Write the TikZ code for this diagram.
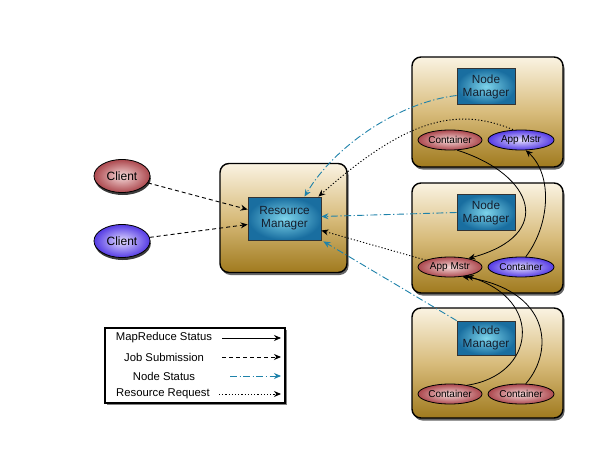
\documentclass[tikz,border=0pt]{standalone}
\usepackage{fontspec}
\setmainfont{Liberation Sans}
\usetikzlibrary{arrows.meta,shadows,shapes.geometric}
\definecolor{nsblue}{RGB}{30,130,170}
\definecolor{boxtop}{RGB}{250,243,226}
\definecolor{boxmid}{RGB}{216,188,124}
\definecolor{boxbot}{RGB}{160,122,30}
\definecolor{tealin}{RGB}{125,212,234}
\definecolor{tealout}{RGB}{25,110,160}
\definecolor{redin}{RGB}{246,218,218}
\definecolor{redout}{RGB}{172,72,78}
\definecolor{bluein}{RGB}{228,222,255}
\definecolor{blueout}{RGB}{84,58,228}
\definecolor{mgrtext}{RGB}{20,30,45}
\tikzset{
  hostbox/.style={draw=black, line width=1.4pt, rounded corners=9pt,
    top color=boxtop, bottom color=boxbot, middle color=boxmid,
    drop shadow={shadow xshift=1.5pt, shadow yshift=-2.5pt, fill=black!75, opacity=0.8}},
  mgr/.style={draw=black!80, line width=0.8pt, shading=radial, inner color=tealin,
    outer color=tealout, align=center, text=mgrtext, font=\fontsize{11.8}{13}\selectfont, inner sep=0pt},
  redell/.style={ellipse, draw=black, line width=0.8pt, shading=radial, inner color=redin,
    outer color=redout, inner sep=0pt, font=\fontsize{10}{11}\selectfont},
  blueell/.style={ellipse, draw=black, line width=0.8pt, shading=radial, inner color=bluein,
    outer color=blueout, inner sep=0pt, font=\fontsize{10}{11}\selectfont},
  clientshadow/.style={drop shadow={shadow xshift=0.8pt, shadow yshift=-2.5pt, fill=black!85, opacity=0.9}},
  tip/.style={-{Stealth[length=7pt,width=6pt]}},
  mrstatus/.style={tip, line width=0.8pt, black},
  jobsub/.style={tip, line width=0.9pt, black, dash pattern=on 4pt off 3pt},
  nodestat/.style={tip, line width=0.9pt, nsblue, dash pattern=on 7pt off 2.5pt on 1.2pt off 2.5pt},
  resreq/.style={tip, line width=0.9pt, black, dash pattern=on 1.2pt off 2pt},
  legtext/.style={font=\fontsize{11.3}{13}\selectfont, anchor=center},
}
\begin{document}
\begin{tikzpicture}[x=1pt,y=-1pt]
\useasboundingbox[fill=white] (0,0) rectangle (608,460);

% host boxes
\node[hostbox, minimum width=127pt, minimum height=109pt] (rmbox) at (283.5,218) {};
\node[hostbox, minimum width=151pt, minimum height=110pt] (nm1box) at (487.5,112) {};
\node[hostbox, minimum width=151pt, minimum height=110pt] (nm2box) at (487.5,238) {};
\node[hostbox, minimum width=151pt, minimum height=110pt] (nm3box) at (487.5,363) {};

% managers
\node[mgr, minimum width=73pt, minimum height=43pt] (rm) at (284.5,218.5) {Resource\\Manager};
\node[mgr, minimum width=58pt, minimum height=36pt] (nm1) at (486,86.5) {Node\\Manager};
\node[mgr, minimum width=58pt, minimum height=36pt] (nm2) at (486,212.5) {Node\\Manager};
\node[mgr, minimum width=58pt, minimum height=34pt] (nm3) at (486,338) {Node\\Manager};

% containers / app masters
\node[redell, minimum width=64pt, minimum height=20pt] (c1) at (450,140) {Container};
\node[blueell, minimum width=66pt, minimum height=20pt] (am1) at (521,140) {App Mstr};
\node[redell, minimum width=64pt, minimum height=20pt] (am2) at (450,267) {App Mstr};
\node[blueell, minimum width=66pt, minimum height=20pt] (c2) at (521,267) {Container};
\node[redell, minimum width=64pt, minimum height=20pt] (c3a) at (450,394) {Container};
\node[redell, minimum width=66pt, minimum height=20pt] (c3b) at (521,394) {Container};

% clients
\node[redell, clientshadow, minimum width=56pt, minimum height=33pt, font=\fontsize{12}{13}\selectfont] (cl1) at (122,176) {Client};
\node[blueell, clientshadow, minimum width=56pt, minimum height=33pt, font=\fontsize{12}{13}\selectfont] (cl2) at (122,241) {Client};

% job submission
\draw[jobsub] (cl1) -- ([yshift=9pt]rm.west);
\draw[jobsub] (cl2) -- ([yshift=-6pt]rm.west);

% node status
\draw[nodestat] ([yshift=-9pt]nm1.west) .. controls (400,102) and (335,145) .. ([xshift=20pt]rm.north);
\draw[nodestat] (nm2.west) -- ([yshift=2pt]rm.east);
\draw[nodestat] (nm3.north west) -- ([xshift=2pt,yshift=-1pt]rm.south east);

% resource request
\draw[resreq] ([xshift=-8pt]am1.north) .. controls (460,108) and (410,115) .. ([xshift=-3pt]rm.north east);
\draw[resreq] (am2) -- ([yshift=-12pt]rm.east);

% MapReduce status
\draw[mrstatus] (c1.-55) .. controls (535,175) and (555,235) .. (am2.25);
\draw[mrstatus] (c2.65) .. controls (550,225) and (553,175) .. (am1.-65);
\draw[mrstatus] (c3a.27) .. controls (535,375) and (545,300) .. (am2.-28);
\draw[mrstatus] (c3b.65) .. controls (555,350) and (550,290) .. (am2.-38);

% legend
\node[draw=black, line width=1.2pt, fill=white, minimum width=180pt, minimum height=75pt,
  drop shadow={shadow xshift=1.5pt, shadow yshift=-2pt, fill=black!70, opacity=0.7}] (legend) at (195,365.5) {};
\node[legtext] (l1) at (164,338) {MapReduce Status};
\node[legtext] (l2) at (164,357) {Job Submission};
\node[legtext] (l3) at (164,376) {Node Status};
\node[legtext] (l4) at (163,394) {Resource Request};
\coordinate (l1a) at (222,338); \coordinate (l1b) at (281,338);
\coordinate (l2a) at (222,357); \coordinate (l2b) at (281,357);
\coordinate (l3a) at (230,376); \coordinate (l3b) at (281,376);
\coordinate (l4a) at (219,394); \coordinate (l4b) at (281,394);
\draw[mrstatus] (l1a) -- (l1b);
\draw[jobsub] (l2a) -- (l2b);
\draw[nodestat] (l3a) -- (l3b);
\draw[resreq] (l4a) -- (l4b);
\end{tikzpicture}
\end{document}
